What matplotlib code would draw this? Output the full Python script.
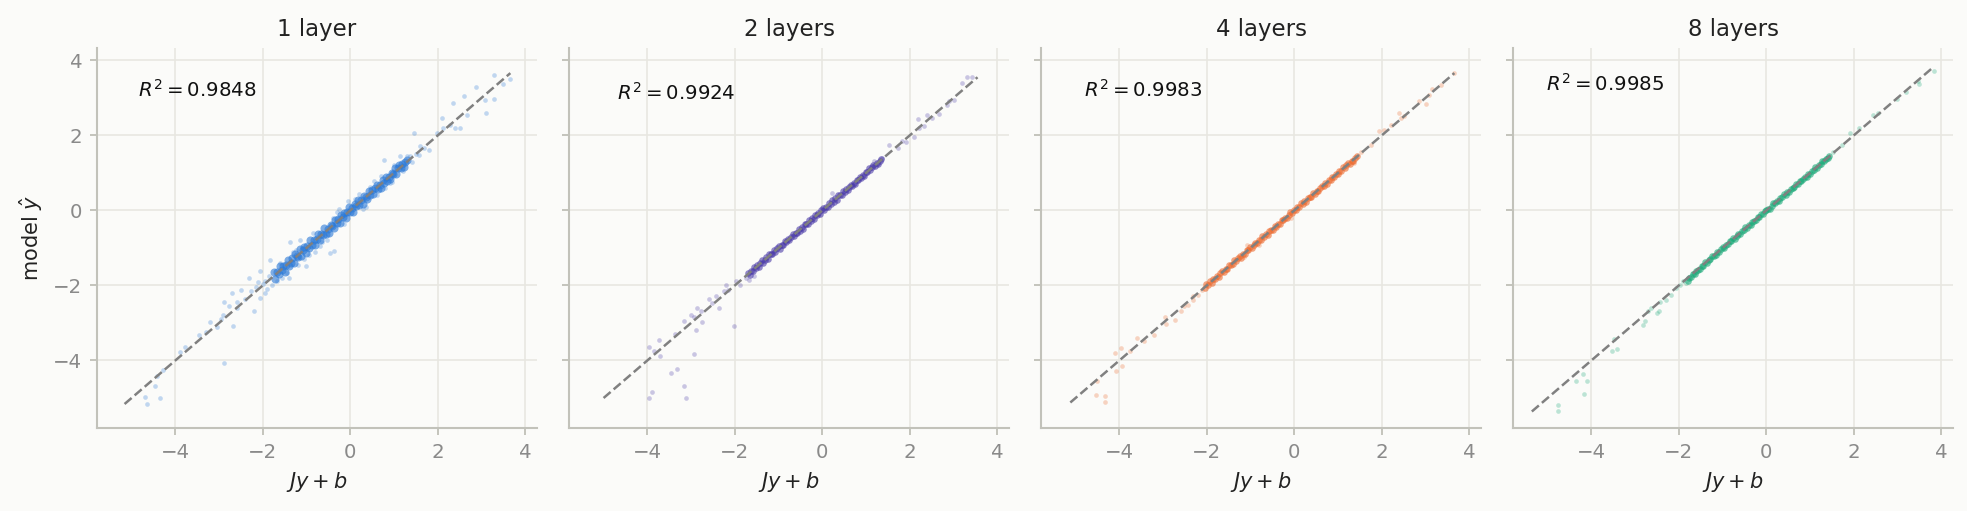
import matplotlib
matplotlib.use("Agg")
import matplotlib.pyplot as plt

titles = ["1 layer", "2 layers", "4 layers", "8 layers"]
r2_values = [0.9848, 0.9924, 0.9983, 0.9985]
colors = ["#2a78d6", "#4a3aa8", "#ec6a2f", "#1aa878"]

# ---- 1 layer: dense core + loose points
x1_core = [-1.75, -1.71, -1.68, -1.64, -1.61, -1.57, -1.54, -1.50, -1.47, -1.43,
           -1.40, -1.36, -1.33, -1.29, -1.26, -1.22, -1.19, -1.15, -1.12, -1.08,
           -1.05, -1.01, -0.98, -0.94, -0.91, -0.87, -0.84, -0.80, -0.77, -0.73,
           -0.70, -0.66, -0.63, -0.59, -0.56, -0.52, -0.49, -0.45, -0.42, -0.38,
           -0.35, -0.31, -0.28, -0.24, -0.21, -0.17, -0.14, -0.10, -0.07, -0.03,
           0.00, 0.04, 0.07, 0.11, 0.14, 0.18, 0.21, 0.25, 0.28, 0.32,
           0.35, 0.39, 0.42, 0.46, 0.49, 0.53, 0.56, 0.60, 0.63, 0.67,
           0.70, 0.74, 0.77, 0.81, 0.84, 0.88, 0.91, 0.95, 0.98, 1.02,
           1.05, 1.09, 1.12, 1.16, 1.19, 1.23, 1.26, 1.30]
y1_core = [-1.65, -1.83, -1.64, -1.70, -1.48, -1.59, -1.47, -1.64, -1.46, -1.32,
           -1.48, -1.39, -1.28, -1.41, -1.17, -1.22, -1.24, -1.03, -1.22, -1.05,
           -0.97, -1.14, -0.96, -1.01, -0.80, -0.91, -0.78, -0.91, -0.76, -0.64,
           -0.79, -0.62, -0.65, -0.47, -0.62, -0.49, -0.61, -0.38, -0.42, -0.46,
           -0.25, -0.34, -0.23, -0.34, -0.13, -0.18, -0.08, -0.19, -0.04, 0.08,
           -0.05, 0.06, -0.03, 0.18, 0.12, 0.27, 0.14, 0.29, 0.17, 0.38,
           0.36, 0.31, 0.52, 0.42, 0.54, 0.44, 0.59, 0.68, 0.57, 0.68,
           0.60, 0.81, 0.74, 0.90, 0.79, 0.90, 0.83, 1.01, 0.97, 1.12,
           0.98, 1.12, 1.20, 1.12, 1.24, 1.17, 1.28, 1.34]
x1_loose = [-4.69, -4.65, -4.46, -4.34, -4.41, -4.28, -3.90, -3.77, -2.88, -3.45,
            -3.20, -2.91, -2.67, -2.88, -2.71, -2.50, -2.78, -2.59, -2.32, -2.21,
            -2.06, -2.07, -2.27, -1.94, -1.83, -1.68, -1.56, -1.41, -1.37, -1.14,
            -1.01, -0.46, -0.38, -0.53, -2.15, -2.00, -1.90, -2.40, -2.60, -3.05,
            -3.30, -2.95, -2.10, -1.85, -1.80, -1.95,
            1.45, 1.98, 2.13, 2.10, 2.29, 2.40, 2.52, 2.36, 2.59, 2.67,
            2.88, 3.09, 3.28, 3.11, 3.28, 3.49, 3.66, 1.68, 1.79, 1.56,
            1.37, 1.14, 0.76, 1.50, 1.60, 1.40, 1.30, 1.20, 0.20, -0.05,
            0.35, 0.60, -0.80, -1.20, -0.25, 0.95,
            -1.30, -1.05, -0.85, -0.65, -0.40, -0.15, 0.10, 0.30, 0.55, 0.80,
            1.00, -1.60, -1.45, -0.95, -0.30, 0.45, 0.70, 0.90, -0.70, -1.25]
y1_loose = [-4.98, -5.16, -4.69, -4.99, -4.41, -4.25, -3.78, -3.63, -4.07, -3.32,
            -2.98, -2.78, -3.09, -2.43, -2.20, -2.13, -2.56, -2.60, -1.80, -2.69,
            -2.34, -1.61, -2.16, -1.89, -1.32, -1.89, -1.80, -1.80, -0.83, -0.78,
            -1.47, -1.14, -1.09, -0.78, -2.05, -1.95, -2.10, -2.35, -2.45, -3.10,
            -3.25, -2.90, -1.90, -1.75, -2.00, -2.20,
            2.06, 2.06, 2.20, 2.46, 2.27, 2.21, 2.20, 2.86, 3.04, 2.55,
            3.28, 2.95, 2.98, 2.60, 3.60, 3.37, 3.51, 1.66, 1.62, 1.48,
            1.44, 1.44, 1.35, 1.50, 1.72, 1.30, 1.45, 1.05, 0.45, 0.25,
            0.10, 0.40, -1.10, -1.45, 0.05, 0.75,
            -1.10, -1.30, -0.60, -0.85, -0.20, -0.35, 0.30, 0.05, 0.78, 0.60,
            1.20, -1.40, -1.68, -1.18, -0.05, 0.62, 0.92, 0.72, -0.95, -1.05]

# ---- 2 layers
x2_core = [-1.70, -1.66, -1.63, -1.59, -1.56, -1.52, -1.49, -1.45, -1.42, -1.38,
           -1.35, -1.31, -1.28, -1.24, -1.21, -1.17, -1.14, -1.10, -1.07, -1.03,
           -1.00, -0.96, -0.93, -0.89, -0.86, -0.82, -0.79, -0.75, -0.72, -0.68,
           -0.65, -0.61, -0.58, -0.54, -0.51, -0.47, -0.44, -0.40, -0.37, -0.33,
           -0.30, -0.26, -0.23, -0.19, -0.16, -0.12, -0.09, -0.05, -0.02, 0.02,
           0.05, 0.09, 0.12, 0.16, 0.19, 0.23, 0.26, 0.30, 0.33, 0.37,
           0.40, 0.44, 0.47, 0.51, 0.54, 0.58, 0.61, 0.65, 0.68, 0.72,
           0.75, 0.79, 0.82, 0.86, 0.89, 0.93, 0.96, 1.00, 1.03, 1.07,
           1.10, 1.14, 1.17, 1.21, 1.24, 1.28, 1.31, 1.35]
y2_core = [-1.66, -1.71, -1.61, -1.62, -1.50, -1.53, -1.46, -1.51, -1.41, -1.33,
           -1.39, -1.33, -1.25, -1.29, -1.17, -1.17, -1.17, -1.05, -1.11, -1.01,
           -0.96, -1.02, -0.92, -0.92, -0.81, -0.84, -0.76, -0.80, -0.71, -0.64,
           -0.69, -0.59, -0.59, -0.49, -0.54, -0.45, -0.49, -0.37, -0.37, -0.37,
           -0.26, -0.28, -0.20, -0.23, -0.12, -0.13, -0.06, -0.09, 0.00, 0.07,
           0.02, 0.10, 0.08, 0.19, 0.18, 0.27, 0.23, 0.32, 0.28, 0.40,
           0.41, 0.40, 0.52, 0.49, 0.57, 0.54, 0.63, 0.69, 0.65, 0.73,
           0.70, 0.82, 0.80, 0.90, 0.86, 0.94, 0.92, 1.03, 1.02, 1.12,
           1.07, 1.16, 1.21, 1.19, 1.27, 1.25, 1.32, 1.37]
x2_loose = [-3.96, -3.73, -3.85, -3.70, -3.96, -3.89, -3.45, -3.31, -3.16, -3.11,
            -2.93, -3.37, -2.88, -2.93, -2.76, -2.86, -2.59, -2.44, -2.35, -2.52,
            -2.25, -2.15, -2.02, -2.21, -1.98, -1.87, -1.68, -1.56, -1.75, -3.01,
            -3.16, -2.78,
            1.52, 1.72, 1.91, 2.10, 2.20, 2.32, 2.40, 2.52, 2.67, 2.21,
            2.90, 3.01, 2.86, 3.20, 3.32, 3.43, 1.37, 1.18, 0.23, 1.83]
y2_loose = [-3.63, -3.45, -3.74, -3.89, -5.00, -4.84, -4.34, -4.22, -4.67, -4.99,
            -3.83, -3.30, -3.18, -2.85, -2.98, -2.60, -2.36, -2.29, -2.59, -2.47,
            -2.16, -2.12, -3.09, -1.98, -1.89, -2.00, -1.85, -1.76, -1.80, -2.78,
            -2.96, -2.69,
            1.75, 1.66, 1.82, 1.97, 2.44, 2.24, 2.55, 2.46, 2.57, 2.20,
            2.91, 2.95, 2.82, 3.40, 3.55, 3.55, 1.40, 1.31, 0.46, 1.84]

# ---- 4 layers
x3_core = [-2.05, -2.01, -1.97, -1.93, -1.89, -1.85, -1.81, -1.77, -1.73, -1.69,
           -1.65, -1.61, -1.57, -1.53, -1.49, -1.45, -1.41, -1.37, -1.33, -1.29,
           -1.25, -1.21, -1.17, -1.13, -1.09, -1.05, -1.01, -0.97, -0.93, -0.89,
           -0.85, -0.81, -0.77, -0.73, -0.69, -0.65, -0.61, -0.57, -0.53, -0.49,
           -0.45, -0.41, -0.37, -0.33, -0.29, -0.25, -0.21, -0.17, -0.13, -0.09,
           -0.05, -0.01, 0.03, 0.07, 0.11, 0.15, 0.19, 0.23, 0.27, 0.31,
           0.35, 0.39, 0.43, 0.47, 0.51, 0.55, 0.59, 0.63, 0.67, 0.71,
           0.75, 0.79, 0.83, 0.87, 0.91, 0.95, 0.99, 1.03, 1.07, 1.11,
           1.15, 1.19, 1.23, 1.27, 1.31, 1.35, 1.39, 1.43]
y3_core = [-2.08, -1.97, -1.98, -1.88, -1.93, -1.83, -1.83, -1.74, -1.78, -1.68,
           -1.61, -1.64, -1.55, -1.57, -1.46, -1.45, -1.43, -1.33, -1.36, -1.28,
           -1.22, -1.26, -1.15, -1.15, -1.05, -1.06, -0.98, -1.01, -0.92, -0.86,
           -0.88, -0.79, -0.78, -0.69, -0.72, -0.64, -0.65, -0.55, -0.53, -0.52,
           -0.41, -0.43, -0.35, -0.36, -0.26, -0.26, -0.19, -0.21, -0.12, -0.05,
           -0.07, 0.00, 0.00, 0.10, 0.10, 0.19, 0.17, 0.25, 0.23, 0.33,
           0.36, 0.36, 0.47, 0.45, 0.53, 0.52, 0.60, 0.66, 0.65, 0.72,
           0.71, 0.81, 0.82, 0.90, 0.88, 0.96, 0.97, 1.06, 1.06, 1.15,
           1.13, 1.21, 1.26, 1.25, 1.33, 1.32, 1.40, 1.45]
x3_loose = [-4.54, -4.32, -4.32, -4.50, -4.08, -3.95, -4.10, -3.96, -3.75, -3.60,
            -3.20, -2.93, -2.96, -2.73, -2.59, -2.52, -2.44, -2.32, -2.21, -2.10,
            -2.32, -3.43,
            1.75, 1.94, 2.06, 2.21, 2.40, 2.52, 2.44, 2.86, 3.01, 3.09,
            3.16, 3.35, 3.66, 1.52, 1.37, -0.08, -1.07, -0.80, -1.14]
y3_loose = [-4.92, -4.96, -5.12, -4.56, -4.29, -4.16, -3.80, -3.67, -3.76, -3.39,
            -3.32, -3.03, -2.85, -2.92, -2.69, -2.56, -2.52, -2.38, -2.25, -2.12,
            -2.29, -3.49,
            1.75, 2.11, 2.15, 2.28, 2.60, 2.51, 2.46, 2.91, 2.84, 3.08,
            3.24, 3.35, 3.66, 1.57, 1.26, -0.20, -0.92, -0.92, -1.23]

# ---- 8 layers
x4_core = [-1.80, -1.76, -1.72, -1.68, -1.64, -1.60, -1.56, -1.52, -1.48, -1.44,
           -1.40, -1.36, -1.32, -1.28, -1.24, -1.20, -1.16, -1.12, -1.08, -1.04,
           -1.00, -0.96, -0.92, -0.88, -0.84, -0.80, -0.76, -0.72, -0.68, -0.64,
           -0.60, -0.56, -0.52, -0.48, -0.44, -0.40, -0.36, -0.32, -0.28, -0.24,
           -0.20, -0.16, -0.12, -0.08, -0.04, 0.00, 0.04, 0.08, 0.12, 0.16,
           0.20, 0.24, 0.28, 0.32, 0.36, 0.40, 0.44, 0.48, 0.52, 0.56,
           0.60, 0.64, 0.68, 0.72, 0.76, 0.80, 0.84, 0.88, 0.92, 0.96,
           1.00, 1.04, 1.08, 1.12, 1.16, 1.20, 1.24, 1.28, 1.32, 1.36,
           1.40, 1.44]
y4_core = [-1.87, -1.79, -1.78, -1.70, -1.69, -1.61, -1.60, -1.55, -1.48, -1.48,
           -1.38, -1.39, -1.31, -1.30, -1.21, -1.21, -1.18, -1.10, -1.11, -1.03,
           -0.98, -0.99, -0.91, -0.89, -0.81, -0.82, -0.74, -0.75, -0.67, -0.62,
           -0.62, -0.55, -0.52, -0.45, -0.46, -0.39, -0.39, -0.30, -0.28, -0.26,
           -0.17, -0.17, -0.10, -0.10, -0.02, 0.00, 0.05, 0.05, 0.13, 0.19,
           0.19, 0.25, 0.26, 0.34, 0.35, 0.43, 0.42, 0.49, 0.49, 0.58,
           0.61, 0.62, 0.71, 0.71, 0.78, 0.78, 0.85, 0.90, 0.90, 0.97,
           0.97, 1.06, 1.08, 1.15, 1.14, 1.21, 1.23, 1.31, 1.32, 1.38,
           1.39, 1.46]
x4_loose = [-4.76, -4.76, -4.36, -4.19, -4.10, -4.17, -3.52, -3.41, -3.49, -2.82,
            -2.78, -2.50, -2.45, -2.71, -2.63, -2.44, -2.30, -2.17, -2.06, -1.98,
            -1.91, -1.79, -1.83, -1.68,
            1.72, 1.91, 2.13, 2.44, 2.55, 2.99, 3.20, 3.47, 3.49, 3.83,
            1.52, 1.37]
y4_loose = [-5.18, -5.36, -4.56, -4.36, -4.56, -4.89, -3.74, -3.69, -3.42, -3.05,
            -2.94, -2.74, -2.69, -2.69, -2.60, -2.44, -2.38, -2.25, -2.07, -1.98,
            -1.89, -1.80, -1.94, -1.67,
            1.75, 2.06, 2.20, 2.55, 2.60, 2.98, 3.17, 3.44, 3.37, 3.71,
            1.57, 1.40]

panels = [
    (x1_core, y1_core, x1_loose, y1_loose),
    (x2_core, y2_core, x2_loose, y2_loose),
    (x3_core, y3_core, x3_loose, y3_loose),
    (x4_core, y4_core, x4_loose, y4_loose),
]
core_size = [15, 10, 10, 10]

bg = "#fbfbf9"
spine_c = "#c2c2ba"
grid_c = "#e8e7e1"
tick_c = "#8a8a8a"

fig, axes = plt.subplots(1, 4, figsize=(13.12, 3.407), dpi=150, sharex=True, sharey=True)
fig.patch.set_facecolor(bg)
fig.subplots_adjust(left=0.0493, right=0.9924, bottom=0.1624, top=0.906, wspace=0.0727)

for i, ax in enumerate(axes):
    xc, yc, xl, yl = panels[i]
    ax.set_facecolor(bg)
    ax.grid(True, color=grid_c, linewidth=0.8, zorder=0)
    ax.set_axisbelow(True)
    ax.scatter(xl, yl, s=5, color=colors[i], alpha=0.28, linewidths=0, zorder=2)
    ax.scatter(xc, yc, s=core_size[i], color=colors[i], alpha=0.6, linewidths=0, zorder=2)

    allv = xc + yc + xl + yl
    lo, hi = min(allv), max(allv)
    ax.plot([lo, hi], [lo, hi], ls="--", color="#808080", lw=1.2, zorder=3)
    rng = hi - lo
    ax.text(lo + 0.035 * rng, hi - 0.05 * rng, "$R^2 = %.4f$" % r2_values[i],
            fontsize=9.5, ha="left", va="center", color="#111111")

    ax.set_title(titles[i], fontsize=11, color="#222222")
    ax.set_xlabel("$Jy + b$", fontsize=10, color="#222222")
    for s in ["top", "right"]:
        ax.spines[s].set_visible(False)
    for s in ["left", "bottom"]:
        ax.spines[s].set_color(spine_c)
        ax.spines[s].set_linewidth(1.0)
    ax.tick_params(colors=spine_c, labelcolor=tick_c, labelsize=9.5, length=3.5, width=0.9)

axes[0].set_ylabel("model $\\hat{y}$", fontsize=10, color="#222222")
axes[0].set_xlim(-5.79, 4.27)
axes[0].set_ylim(-5.80, 4.33)
axes[0].set_xticks([-4, -2, 0, 2, 4])
axes[0].set_yticks([-4, -2, 0, 2, 4])

plt.savefig("out.png", dpi=150, facecolor=bg)
